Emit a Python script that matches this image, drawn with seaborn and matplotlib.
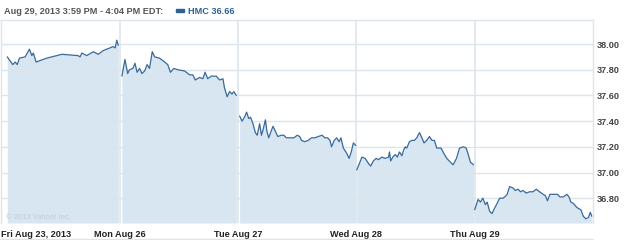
import matplotlib
matplotlib.use("Agg")
import matplotlib.pyplot as plt
import seaborn as sns
import pandas as pd
from matplotlib.lines import Line2D
from matplotlib.patches import Rectangle

# ---- data: minutes after 9:30 open, price ----
fri_min = [19, 37, 45, 52, 59, 78, 92, 100, 105, 114, 149, 199, 252, 259, 265, 281, 303, 319, 336, 358, 367, 375, 380, 385]
fri_px = [37.90, 37.84, 37.86, 37.84, 37.89, 37.90, 37.96, 37.91, 37.93, 37.86, 37.89, 37.92, 37.91, 37.90, 37.93, 37.91,
          37.94, 37.92, 37.95, 37.97, 37.98, 37.97, 38.03, 37.99]

mon_min = [7, 17, 26, 32, 43, 50, 57, 65, 73, 82, 90, 98, 107, 115, 131, 148, 158, 167, 178, 191, 214, 230, 241, 249,
           263, 274, 281, 290, 301, 318, 329, 340, 345, 354, 362, 370, 376, 384]
mon_px = [37.75, 37.88, 37.77, 37.80, 37.81, 37.85, 37.78, 37.81, 37.77, 37.79, 37.84, 37.81, 37.94, 37.90, 37.89, 37.86,
          37.84, 37.78, 37.81, 37.80, 37.79, 37.76, 37.76, 37.72, 37.74, 37.73, 37.78, 37.73, 37.75, 37.75, 37.72, 37.73,
          37.66, 37.59, 37.63, 37.61, 37.63, 37.60]

tue_min = [5, 13, 21, 28, 35, 41, 49, 57, 63, 71, 77, 82, 90, 95, 101, 107, 115, 123, 131, 142, 151, 159, 170, 184, 195,
           203, 209, 220, 231, 242, 253, 264, 277, 286, 295, 303, 308, 317, 325, 333, 339, 347, 358, 366, 373, 380, 388]
tue_px = [37.44, 37.40, 37.43, 37.47, 37.42, 37.43, 37.38, 37.31, 37.29, 37.38, 37.29, 37.33, 37.41, 37.32, 37.27, 37.31,
          37.36, 37.32, 37.28, 37.29, 37.29, 37.27, 37.27, 37.27, 37.29, 37.28, 37.25, 37.24, 37.25, 37.27, 37.27, 37.28,
          37.29, 37.27, 37.27, 37.25, 37.20, 37.25, 37.27, 37.24, 37.27, 37.19, 37.15, 37.11, 37.16, 37.23, 37.21]

wed_min = [1, 10, 18, 29, 40, 47, 56, 65, 73, 84, 95, 106, 109, 113, 120, 128, 135, 142, 150, 155, 161, 166, 175, 183,
           191, 199, 208, 216, 223, 232, 241, 249, 257, 265, 279, 288, 298, 310, 319, 330, 340, 353, 362, 370, 376, 381, 386]
wed_px = [37.02, 37.07, 37.12, 37.11, 37.07, 37.05, 37.09, 37.11, 37.10, 37.12, 37.11, 37.12, 37.16, 37.09, 37.12, 37.14,
          37.12, 37.16, 37.13, 37.17, 37.20, 37.19, 37.24, 37.25, 37.25, 37.27, 37.31, 37.27, 37.23, 37.25, 37.28, 37.25,
          37.25, 37.19, 37.19, 37.15, 37.11, 37.08, 37.06, 37.11, 37.19, 37.20, 37.19, 37.13, 37.08, 37.07, 37.06]

thu_min = [0, 11, 19, 27, 35, 41, 49, 57, 65, 74, 82, 93, 99, 107, 115, 126, 134, 143, 151, 159, 170, 181, 192, 203, 214,
           226, 233, 240, 248, 262, 273, 281, 292, 304, 311, 317, 325, 336, 342, 350, 358, 366, 375, 381, 386]
thu_px = [36.71, 36.79, 36.77, 36.80, 36.75, 36.77, 36.70, 36.68, 36.72, 36.76, 36.80, 36.80, 36.81, 36.83, 36.89, 36.88,
          36.86, 36.87, 36.85, 36.86, 36.84, 36.85, 36.85, 36.87, 36.85, 36.83, 36.82, 36.78, 36.83, 36.83, 36.83, 36.81,
          36.81, 36.83, 36.81, 36.77, 36.76, 36.73, 36.72, 36.71, 36.66, 36.64, 36.65, 36.69, 36.66]

day_labels = ["Fri Aug 23, 2013", "Mon Aug 26", "Tue Aug 27", "Wed Aug 28", "Thu Aug 29"]
y_ticks = [36.80, 37.00, 37.20, 37.40, 37.60, 37.80, 38.00]
header = "Aug 29, 2013 3:59 PM - 4:04 PM EDT:"
legend_label = "HMC 36.66"
copyright_text = "\u00a9 2013 Yahoo! Inc."

SESSION = 390
days = [(fri_min, fri_px), (mon_min, mon_px), (tue_min, tue_px), (wed_min, wed_px), (thu_min, thu_px)]
rows = []
for d, (mins, prices) in enumerate(days):
    for m, p in zip(mins, prices):
        rows.append({"day": d, "t": d * SESSION + m, "price": p})
df = pd.DataFrame(rows)

LINE = "#38699c"
FILL = "#d7e6f1"
GRID = "#dde5ec"
FONT = ["Liberation Sans", "DejaVu Sans"]

sns.set_style("white")
plt.rcParams["font.family"] = FONT

W, H = 625, 240
fig = plt.figure(figsize=(W / 100, H / 100), dpi=100)
L, R, T, B = 1.5, 593, 20, 223
ax = fig.add_axes([L / W, 1 - B / H, (R - L) / W, (B - T) / H])

ymin, ymax = 36.607, 38.187
ax.set_xlim(0, 5 * SESSION)
ax.set_ylim(ymin, ymax)

for d in range(5):
    sub = df[df.day == d]
    ax.fill_between(sub.t, sub.price, ymin, color=FILL, lw=0, zorder=1)
sns.lineplot(data=df, x="t", y="price", units="day", estimator=None, color=LINE, lw=0.9, ax=ax, zorder=3)

for yv in y_ticks:
    ax.axhline(yv, color=GRID, lw=1, zorder=2)
for d in range(1, 5):
    ax.axvline(d * SESSION, color=GRID, lw=1.2, zorder=2)

for s in ["top", "right", "left"]:
    ax.spines[s].set_color(GRID)
    ax.spines[s].set_linewidth(1)
ax.spines["bottom"].set_visible(False)

FS = 6.6
ax.yaxis.tick_right()
ax.set_yticks(y_ticks)
ax.set_yticklabels([f"{v:.2f}" for v in y_ticks], fontsize=FS, fontweight="bold", color="#444444")
ax.tick_params(axis="y", length=0, pad=3)
ax.set_xticks([d * SESSION for d in range(5)])
ax.set_xticklabels(day_labels, fontsize=FS, fontweight="bold", color="#222222")
ax.tick_params(axis="x", length=0, pad=5)
xl = ax.get_xticklabels()
xl[0].set_ha("left")
ax.set_xlabel("")
ax.set_ylabel("")

ax.text(0.008, 0.02, copyright_text, transform=ax.transAxes, fontsize=5.5, color="#c3cdd6", zorder=4)

fig.text(4 / W, 1 - 11 / H, header, fontsize=FS, fontweight="bold", color="#555555", va="center")
fig.patches.append(Rectangle((176 / W, 1 - 12 / H), 8 / W, 3 / H, transform=fig.transFigure,
                             color="#2e5f95", figure=fig))
fig.text(188 / W, 1 - 11 / H, legend_label, fontsize=FS, fontweight="bold", color="#2e5f95", va="center")

fig.add_artist(Line2D([0, R / W], [1 - 238.5 / H, 1 - 238.5 / H], transform=fig.transFigure, color=GRID, lw=1))

fig.savefig("out.png", dpi=100)
